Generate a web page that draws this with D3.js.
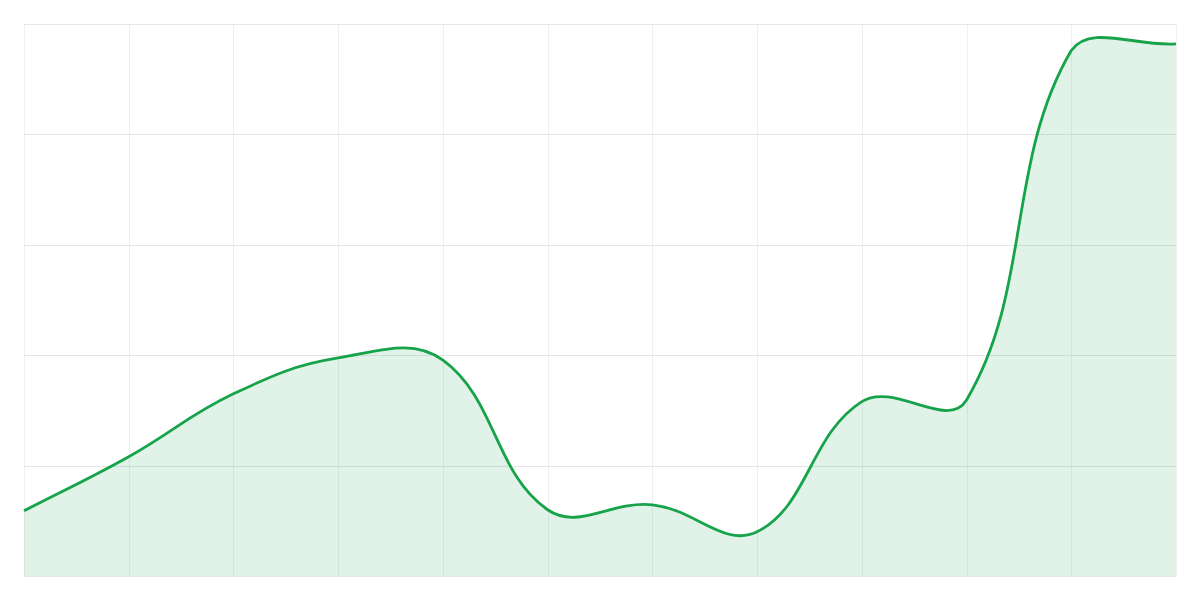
<!DOCTYPE html>
<meta charset="utf-8">
<html>
<head>
	<script src="https://cdn.jsdelivr.net/npm/d3@7"></script>
	<style>
		body { margin: 0; background: #fff; }
		svg { display: block; }
	</style>
</head>
<body>
	<div id="chart"></div>
	<script>
	// values, one per vertical grid line
	var categories = ["P1","P2","P3","P4","P5","P6","P7","P8","P9","P10","P11","P12"];
	var values = [11.8, 21.6, 33.0, 39.5, 39.1, 12.0, 12.9, 8.0, 31.6, 31.9, 95.2, 96.4];
	var yTicks = [0, 20, 40, 60, 80, 100];

	var svgWidth = 1200;
	var svgHeight = 600;
	var margin = {top: 24, right: 24, bottom: 24, left: 24},
		graphWidth = svgWidth - margin.left - margin.right,
		graphHeight = svgHeight - margin.top - margin.bottom;

	var x = d3.scalePoint()
		.domain(categories)
		.range([0, graphWidth]);

	var y = d3.scaleLinear()
		.domain([0, 100])
		.range([graphHeight, 0]);

	// spline with tension like the usual canvas chart libs (control points capped to the plot)
	function splineCurve(tension, x0, x1, y0, y1) {
		function Spline(context) { this._context = context; }
		Spline.prototype = {
			areaStart: function() { this._line = 0; },
			areaEnd: function() { this._line = NaN; },
			lineStart: function() { this._pts = []; },
			point: function(px, py) { this._pts.push([+px, +py]); },
			lineEnd: function() {
				var p = this._pts, n = p.length, c = this._context;
				if (!n) return;
				var cps = [];
				for (var i = 0; i < n; i++) {
					var prev = p[i > 0 ? i - 1 : i], cur = p[i], next = p[i < n - 1 ? i + 1 : i];
					var d01 = Math.hypot(cur[0] - prev[0], cur[1] - prev[1]);
					var d12 = Math.hypot(next[0] - cur[0], next[1] - cur[1]);
					var s01 = d01 / (d01 + d12), s12 = d12 / (d01 + d12);
					if (isNaN(s01)) s01 = 0;
					if (isNaN(s12)) s12 = 0;
					var fa = tension * s01, fb = tension * s12;
					var dx = next[0] - prev[0], dy = next[1] - prev[1];
					cps.push({
						prev: [clamp(cur[0] - fa * dx, x0, x1), clamp(cur[1] - fa * dy, y0, y1)],
						next: [clamp(cur[0] + fb * dx, x0, x1), clamp(cur[1] + fb * dy, y0, y1)]
					});
				}
				if (this._line) c.lineTo(p[0][0], p[0][1]);
				else c.moveTo(p[0][0], p[0][1]);
				for (var j = 1; j < n; j++) {
					c.bezierCurveTo(cps[j-1].next[0], cps[j-1].next[1], cps[j].prev[0], cps[j].prev[1], p[j][0], p[j][1]);
				}
				if (this._line || (this._line !== 0 && n === 1)) c.closePath();
				this._line = 1 - this._line;
			}
		};
		return function(context) { return new Spline(context); };
	}

	function clamp(v, lo, hi) { return Math.max(lo, Math.min(hi, v)); }

	var curve = splineCurve(0.4, 0, graphWidth, 0, graphHeight);

	var line = d3.line()
		.x(function(d, i) { return x(categories[i]); })
		.y(function(d) { return y(d); })
		.curve(curve);

	var area = d3.area()
		.x(function(d, i) { return x(categories[i]); })
		.y0(graphHeight)
		.y1(function(d) { return y(d); })
		.curve(curve);

	var svg = d3.select("#chart").append("svg")
		.attr("width", svgWidth)
		.attr("height", svgHeight);

	var g = svg.append("g")
		.attr("transform", "translate(" + margin.left + "," + margin.top + ")");

	// vertical grid
	g.append("g")
		.attr("class", "grid grid--x")
		.call(d3.axisBottom(x).tickSize(graphHeight).tickFormat(""))
		.call(function(s) {
			s.select(".domain").remove();
			s.selectAll("line").attr("stroke", "#efefef").attr("shape-rendering", "crispEdges");
		});

	// horizontal grid
	g.append("g")
		.attr("class", "grid grid--y")
		.call(d3.axisLeft(y).tickValues(yTicks).tickSize(-graphWidth).tickFormat(""))
		.call(function(s) {
			s.select(".domain").remove();
			s.selectAll("line").attr("stroke", "#e6e6e6").attr("shape-rendering", "crispEdges");
		});

	g.append("path")
		.datum(values)
		.attr("fill", "rgba(22,163,74,0.13)")
		.attr("d", area);

	g.append("path")
		.datum(values)
		.attr("fill", "none")
		.attr("stroke", "#16a34a")
		.attr("stroke-width", 2.8)
		.attr("stroke-linejoin", "round")
		.attr("d", line);
	</script>
</body>
</html>
